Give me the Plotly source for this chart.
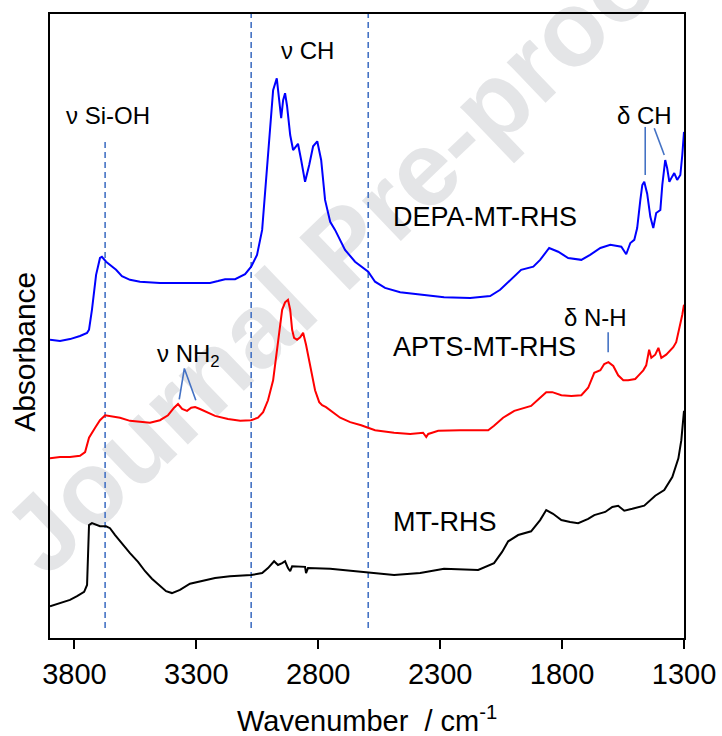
import plotly.graph_objects as go

# ---------------- data ----------------
depa_wn = [3900, 3859, 3818, 3777, 3748, 3740, 3728, 3711, 3695, 3687, 3670, 3654, 3642, 3629,
           3605, 3572, 3531, 3449, 3367, 3285, 3244, 3211, 3182, 3141, 3100, 3075, 3051, 3030,
           3014, 2997, 2985, 2970, 2961, 2952, 2944, 2936, 2928, 2915, 2903, 2891, 2883, 2870,
           2854, 2837, 2821, 2804, 2788, 2772, 2751, 2731, 2710, 2690, 2649, 2595, 2567, 2526,
           2464, 2382, 2284, 2177, 2095, 2054, 2013, 1968, 1918, 1890, 1853, 1816, 1775, 1721,
           1685, 1643, 1602, 1557, 1537, 1520, 1504, 1492, 1479, 1471, 1463, 1451, 1438, 1426,
           1414, 1397, 1389, 1377, 1369, 1360, 1352, 1340, 1328, 1315, 1307, 1300]
depa_abs = [0.478, 0.476, 0.479, 0.484, 0.489, 0.494, 0.526, 0.582, 0.609, 0.611, 0.603, 0.598, 0.593, 0.590,
            0.580, 0.574, 0.571, 0.569, 0.569, 0.569, 0.569, 0.572, 0.575, 0.575, 0.583, 0.595, 0.614, 0.654,
            0.734, 0.830, 0.878, 0.897, 0.862, 0.833, 0.862, 0.873, 0.853, 0.806, 0.782, 0.788, 0.792, 0.766,
            0.731, 0.758, 0.788, 0.796, 0.766, 0.702, 0.667, 0.654, 0.638, 0.622, 0.603, 0.587, 0.571, 0.561,
            0.554, 0.550, 0.546, 0.545, 0.548, 0.558, 0.574, 0.590, 0.595, 0.606, 0.625, 0.619, 0.609, 0.606,
            0.614, 0.625, 0.630, 0.627, 0.615, 0.633, 0.638, 0.657, 0.702, 0.726, 0.731, 0.712, 0.675, 0.657,
            0.681, 0.686, 0.726, 0.766, 0.753, 0.731, 0.737, 0.745, 0.734, 0.742, 0.774, 0.811]

apts_wn = [3900, 3859, 3818, 3777, 3756, 3740, 3715, 3695, 3674, 3654, 3613, 3572, 3531, 3490,
           3449, 3416, 3391, 3375, 3358, 3338, 3321, 3305, 3285, 3252, 3223, 3170, 3120, 3075,
           3047, 3026, 3006, 2985, 2965, 2948, 2936, 2924, 2915, 2907, 2899, 2887, 2874, 2862,
           2850, 2833, 2813, 2796, 2784, 2768, 2751, 2710, 2669, 2624, 2567, 2489, 2423, 2370,
           2357, 2349, 2333, 2308, 2218, 2103, 2079, 2042, 1996, 1951, 1927, 1890, 1865, 1840,
           1803, 1762, 1721, 1693, 1668, 1643, 1627, 1610, 1590, 1570, 1549, 1529, 1500, 1488,
           1467, 1455, 1443, 1434, 1418, 1405, 1393, 1373, 1356, 1344, 1332, 1320, 1307, 1300]
apts_abs = [0.288, 0.290, 0.290, 0.292, 0.298, 0.321, 0.337, 0.349, 0.357, 0.356, 0.353, 0.348, 0.346, 0.345,
            0.349, 0.357, 0.369, 0.375, 0.367, 0.364, 0.369, 0.370, 0.367, 0.361, 0.356, 0.351, 0.348, 0.349,
            0.353, 0.362, 0.381, 0.413, 0.478, 0.526, 0.538, 0.542, 0.526, 0.494, 0.481, 0.478, 0.482, 0.489,
            0.470, 0.434, 0.397, 0.378, 0.373, 0.370, 0.365, 0.353, 0.346, 0.341, 0.333, 0.329, 0.327, 0.329,
            0.322, 0.327, 0.329, 0.332, 0.333, 0.333, 0.340, 0.353, 0.364, 0.369, 0.372, 0.385, 0.394, 0.394,
            0.389, 0.388, 0.389, 0.401, 0.425, 0.429, 0.439, 0.442, 0.436, 0.421, 0.413, 0.413, 0.415, 0.420,
            0.429, 0.437, 0.462, 0.449, 0.454, 0.465, 0.449, 0.454, 0.462, 0.466, 0.474, 0.494, 0.518, 0.534]

mt_wn = [3900, 3859, 3818, 3789, 3760, 3748, 3744, 3740, 3728, 3695, 3670, 3654, 3633, 3605,
         3572, 3539, 3510, 3482, 3449, 3424, 3400, 3367, 3326, 3285, 3223, 3162, 3075, 3030,
         3006, 2981, 2965, 2948, 2936, 2924, 2915, 2907, 2874, 2854, 2850, 2842, 2751, 2624,
         2489, 2382, 2284, 2144, 2079, 2046, 2021, 1980, 1927, 1890, 1865, 1837, 1803, 1767,
         1734, 1693, 1668, 1623, 1594, 1570, 1545, 1512, 1463, 1418, 1381, 1348, 1323, 1311, 1300]
mt_abs = [0.051, 0.056, 0.061, 0.067, 0.074, 0.085, 0.141, 0.181, 0.184, 0.179, 0.179, 0.176, 0.165, 0.151,
          0.136, 0.122, 0.107, 0.095, 0.083, 0.075, 0.072, 0.077, 0.087, 0.091, 0.096, 0.099, 0.101, 0.104,
          0.112, 0.123, 0.117, 0.120, 0.123, 0.112, 0.107, 0.115, 0.114, 0.114, 0.104, 0.112, 0.111, 0.106,
          0.101, 0.104, 0.111, 0.109, 0.120, 0.138, 0.155, 0.165, 0.171, 0.189, 0.205, 0.199, 0.189, 0.186,
          0.184, 0.191, 0.197, 0.202, 0.210, 0.212, 0.204, 0.207, 0.212, 0.228, 0.237, 0.258, 0.288, 0.317, 0.364]

series_names = ["DEPA-MT-RHS", "APTS-MT-RHS", "MT-RHS"]
series_label_y = [0.675, 0.466, 0.186]
label_x = 2500

# dashed guide lines (wavenumber, bottom, top)
guide_wn = [3674, 3075, 2595]
guide_bottom = [0.016, 0.016, 0.016]
guide_top = [0.795, 1.0, 1.0]

# band labels
band_text = ["ν Si-OH", "ν CH", "δ CH", "δ N-H", "ν NH<sub>2</sub>"]
band_x = [3662, 2846, 1463, 1664, 3330]
band_y = [0.838, 0.941, 0.838, 0.514, 0.452]

# leader lines for band labels (x list, y list)
leaders = [
    ([1459, 1459], [0.819, 0.742]),
    ([1422, 1381], [0.817, 0.774]),
    ([1611, 1611], [0.490, 0.458]),
    ([3370, 3349, 3302], [0.3825, 0.432, 0.381]),
]

x_ticks = [3800, 3300, 2800, 2300, 1800, 1300]

FONT = "Arial, 'Liberation Sans', sans-serif"
GUIDE = "#4472C4"

fig = go.Figure()

for gx, gb, gt in zip(guide_wn, guide_bottom, guide_top):
    fig.add_trace(go.Scatter(x=[gx, gx], y=[gb, gt], mode="lines",
                             line=dict(color=GUIDE, width=1.6, dash="6px,4px"),
                             hoverinfo="skip", showlegend=False))

for lx, ly in leaders:
    fig.add_trace(go.Scatter(x=lx, y=ly, mode="lines",
                             line=dict(color=GUIDE, width=1.6),
                             hoverinfo="skip", showlegend=False))

for wn, ab, col, name in [(depa_wn, depa_abs, "#0000FF", series_names[0]),
                          (apts_wn, apts_abs, "#FF0000", series_names[1]),
                          (mt_wn, mt_abs, "#000000", series_names[2])]:
    fig.add_trace(go.Scatter(x=wn, y=ab, mode="lines", name=name,
                             line=dict(color=col, width=2), showlegend=False))

for name, yy in zip(series_names, series_label_y):
    fig.add_annotation(x=label_x, y=yy, text=name, showarrow=False, xanchor="left",
                       font=dict(family=FONT, size=27, color="black"))

for t, bx, by in zip(band_text, band_x, band_y):
    fig.add_annotation(x=bx, y=by, text=t, showarrow=False,
                       font=dict(family=FONT, size=24, color="black"))

# axis titles
fig.add_annotation(xref="paper", yref="paper", x=0.5, y=-0.162, yanchor="bottom",
                   text="Wavenumber  / cm<sup>-1</sup>", showarrow=False,
                   font=dict(family=FONT, size=29, color="black"))
fig.add_annotation(xref="paper", yref="paper", x=-0.04, y=0.458, xanchor="center",
                   text="Absorbance", textangle=-90, showarrow=False,
                   font=dict(family=FONT, size=30, color="black"))

# watermark (behind curves)
fig.add_shape(type="rect", xref="paper", yref="paper", x0=0.40, x1=0.50, y0=0.59, y1=0.69,
              line=dict(width=0, color="rgba(0,0,0,0)"), fillcolor="rgba(0,0,0,0)", layer="below",
              label=dict(text="<b>Journal Pre-proof</b>", textangle=-43.7, textposition="middle center",
                         font=dict(family=FONT, size=106, color="#e4e5e7")))

fig.update_xaxes(range=[3900, 1300], tickvals=x_ticks, ticks="outside", ticklen=9, tickwidth=1.5,
                 tickcolor="black", showline=True, linecolor="black", linewidth=1.5, mirror=True,
                 showgrid=False, zeroline=False, automargin=False,
                 tickfont=dict(family=FONT, size=29, color="black"))
fig.update_yaxes(range=[0, 1.0], showticklabels=False, ticks="", showline=True, linecolor="black",
                 linewidth=1.5, mirror=True, showgrid=False, zeroline=False, automargin=False)

fig.update_layout(width=722, height=736, margin=dict(l=50, r=38, t=14, b=98),
                  paper_bgcolor="white", plot_bgcolor="rgba(0,0,0,0)", showlegend=False)

fig.write_html("out.html", config={"displayModeBar": False},
               post_script="document.body.style.margin='0px';")
